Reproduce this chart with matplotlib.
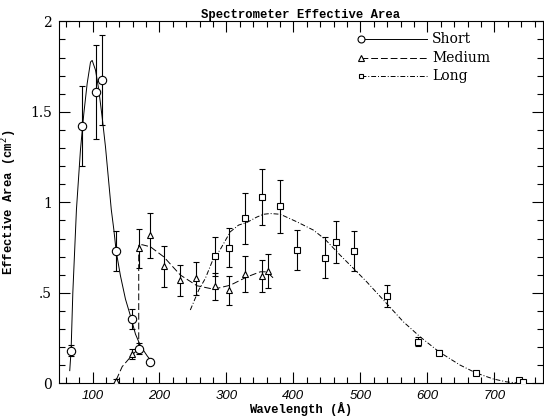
import matplotlib
matplotlib.use("Agg")
import matplotlib.pyplot as plt

short_x = [68, 84, 104.5, 114.5, 135.3, 159.2, 169, 186.5]
short_y = [0.18, 1.42, 1.61, 1.675, 0.73, 0.355, 0.19, 0.12]
short_err = [0.03, 0.22, 0.26, 0.25, 0.11, 0.055, 0.03, 0.015]

medium_x = [135.3, 159.2, 169, 186.5, 207.3, 231.2, 255, 282.3, 304.2, 327, 353, 362]
medium_y = [0.014, 0.162, 0.745, 0.818, 0.646, 0.57, 0.58, 0.535, 0.515, 0.605, 0.594, 0.62]
medium_err = [0.01, 0.025, 0.11, 0.125, 0.115, 0.085, 0.09, 0.075, 0.08, 0.1, 0.088, 0.092]

long_x = [282.3, 304.2, 327, 353, 379.2, 406, 447.4, 463.3, 490.6, 539.3, 585.5, 617.3, 671.9, 736.5, 743]
long_y = [0.703, 0.75, 0.912, 1.03, 0.978, 0.736, 0.695, 0.781, 0.73, 0.483, 0.23, 0.169, 0.055, 0.016, 0.009]
long_err = [0.108, 0.11, 0.14, 0.155, 0.145, 0.11, 0.113, 0.117, 0.112, 0.06, 0.025, 0.015, 0.008, 0.006, 0.005]

# ---- model curves ----
short_curve_x = [66, 68, 70.6, 76, 82, 87, 92, 97, 99.5, 104.5, 109.4, 114.4, 119.4, 128,
                 131.8, 135.3, 141.7, 149.2, 156.6, 164.1, 171.6, 181.5, 189]
short_curve_y = [0.07, 0.18, 0.5, 0.96, 1.29, 1.49, 1.656, 1.775, 1.784, 1.73, 1.62, 1.47, 1.305, 0.96,
                 0.85, 0.73, 0.594, 0.465, 0.373, 0.272, 0.207, 0.152, 0.116]

medium_curve_x = [135.3, 144.3, 159.2, 169, 169, 175, 186.5, 206.3, 231.2, 256, 280.8, 305.7,
                  330.6, 350.4, 360.4, 370.4]
medium_curve_y = [0.018, 0.092, 0.156, 0.193, 0.767, 0.765, 0.754, 0.699, 0.598, 0.539, 0.52, 0.542,
                  0.588, 0.616, 0.616, 0.58]

long_curve_x = [246, 258.5, 268.5, 278.4, 290.8, 305.7, 318, 330.6, 345, 355.4, 365.4, 380.3, 405.2,
                430, 447.4, 469.7, 489.5, 509.5, 539.3, 564, 589, 617.3, 648.6, 672, 698.3, 718, 740]
long_curve_y = [0.405, 0.515, 0.58, 0.671, 0.74, 0.837, 0.874, 0.889, 0.918, 0.934, 0.938, 0.934, 0.892,
                0.846, 0.795, 0.708, 0.635, 0.56, 0.44, 0.34, 0.257, 0.174, 0.101, 0.058, 0.024, 0.008, 0.0]

series = [
    ("Short", short_x, short_y, short_err, short_curve_x, short_curve_y, "o", "-"),
    ("Medium", medium_x, medium_y, medium_err, medium_curve_x, medium_curve_y, "^", (0, (7, 3))),
    ("Long", long_x, long_y, long_err, long_curve_x, long_curve_y, "s", (0, (5, 2, 1, 2))),
]
marker_sizes = {"o": 6, "^": 4.8, "s": 4.5}

mono = "Liberation Mono"
serif = "DejaVu Serif"

fig = plt.figure(figsize=(5.44, 4.18), dpi=100)
ax = fig.add_axes([0.1085, 0.083, 0.889, 0.866])

for name, x, y, err, cx, cy, mk, ls in series:
    ax.plot(cx, cy, color="black", lw=0.7, linestyle=ls)
    ax.errorbar(x, y, yerr=err, fmt=mk, ms=marker_sizes[mk], mfc="white", mec="black", mew=0.8,
                ecolor="black", elinewidth=0.8, capsize=2.2, capthick=0.8, zorder=3)

# legend drawn by hand: marker at the left end of the line sample
for i, (name, *_rest, mk, ls) in enumerate(series):
    yy = 0.950 - 0.0505 * i
    ax.plot([0.624, 0.760], [yy, yy], transform=ax.transAxes, color="black", lw=0.7, linestyle=ls)
    ax.plot([0.624], [yy], transform=ax.transAxes, marker=mk, ms=marker_sizes[mk] - 1.0,
            mfc="white", mec="black", mew=0.8, linestyle="none")
    ax.text(0.771, yy, name, transform=ax.transAxes, va="center", ha="left",
            fontsize=10, family=serif)

ax.set_xlim(50, 772)
ax.set_ylim(0, 2)
ax.set_xticks([100, 200, 300, 400, 500, 600, 700])
ax.set_xticks(range(60, 772, 20), minor=True)
ax.set_yticks([0, 0.5, 1, 1.5, 2])
ax.set_yticklabels(["0", ".5", "1", "1.5", "2"], family=serif, fontsize=10)
ax.set_yticks([i / 10 for i in range(21)], minor=True)
for lab in ax.get_xticklabels():
    lab.set_fontstyle("italic")
    lab.set_fontsize(9.5)
    lab.set_family("Liberation Sans")

ax.tick_params(which="both", direction="in", top=True, right=True, width=0.8)
ax.tick_params(which="major", length=8, pad=5)
ax.tick_params(which="minor", length=4)
for sp in ax.spines.values():
    sp.set_linewidth(0.8)

ax.set_title("Spectrometer Effective Area", family=mono, fontsize=8.8, fontweight="bold", pad=2)
ax.set_xlabel("Wavelength (Å)", family=mono, fontsize=8.8, fontweight="bold", labelpad=0)
ax.set_ylabel("Effective Area (cm$^2$)", family=mono, fontsize=8.8, fontweight="bold", labelpad=8)

fig.savefig("out.png", dpi=100)
